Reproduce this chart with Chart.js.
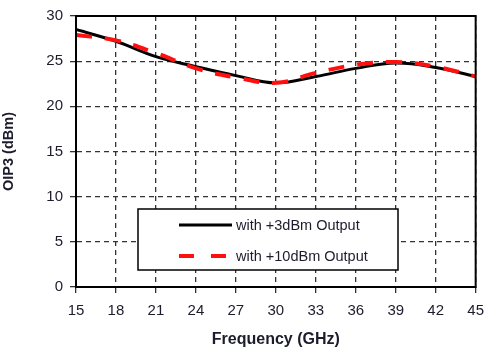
<!DOCTYPE html>
<html>
<head>
<meta charset="utf-8">
<script src="https://cdn.jsdelivr.net/npm/chart.js@4"></script>
<style>
  html, body { margin: 0; padding: 0; background: #fff; }
  #wrap { width: 493px; height: 352px; }
</style>
</head>
<body>
<div id="wrap"><canvas id="chart" width="493" height="352"></canvas></div>
<script>
// data
const freqs = [15, 18, 21, 24, 27, 30, 33, 36, 39, 42, 45];
const oip3At3dBm = [28.5, 27.2, 25.5, 24.4, 23.4, 22.6, 23.3, 24.2, 24.8, 24.3, 23.3];
const oip3At10dBm = [27.9, 27.3, 25.9, 24.2, 23.2, 22.6, 23.7, 24.6, 24.9, 24.4, 23.3];
const xTicks = [15, 18, 21, 24, 27, 30, 33, 36, 39, 42, 45];
const yTicks = [0, 5, 10, 15, 20, 25, 30];

const FONT = 'Liberation Sans, Arial, sans-serif';

function pts(ys) {
  return freqs.map((f, i) => ({ x: f, y: ys[i] }));
}

// white legend box inside the plot + black frame round the plot area
const boxPlugin = {
  id: 'boxLegend',
  afterDatasetsDraw(chart) {
    const ctx = chart.ctx;
    const a = chart.chartArea;
    ctx.save();
    ctx.strokeStyle = '#000';
    ctx.lineWidth = 2;
    ctx.strokeRect(a.left, a.top, a.right - a.left, a.bottom - a.top);

    const bx = 138, by = 209, bw = 260, bh = 61;
    ctx.fillStyle = '#fff';
    ctx.fillRect(bx, by, bw, bh);
    ctx.lineWidth = 1.5;
    ctx.strokeRect(bx, by, bw, bh);

    ctx.font = '14.5px ' + FONT;
    ctx.textBaseline = 'middle';
    chart.data.datasets.forEach((ds, i) => {
      const y = by + 16 + i * 31;
      ctx.beginPath();
      ctx.strokeStyle = ds.borderColor;
      ctx.lineWidth = ds.borderWidth;
      ctx.setLineDash(ds.borderDash ? [15, 17] : []);
      ctx.moveTo(179, y);
      ctx.lineTo(232, y);
      ctx.stroke();
      ctx.setLineDash([]);
      ctx.fillStyle = '#1c1c2c';
      ctx.fillText(ds.label, 236, y + 1);
    });
    ctx.restore();
  }
};

new Chart(document.getElementById('chart'), {
  type: 'line',
  data: {
    datasets: [
      {
        label: 'with +3dBm Output',
        data: pts(oip3At3dBm),
        borderColor: '#000',
        borderWidth: 3,
        pointRadius: 0,
        tension: 0.4,
        order: 1,
      },
      {
        label: 'with +10dBm Output',
        data: pts(oip3At10dBm),
        borderColor: '#ff1010',
        borderWidth: 4,
        borderDash: [16, 13],
        pointRadius: 0,
        tension: 0.4,
        order: 0,
      },
    ],
  },
  options: {
    responsive: false,
    animation: false,
    layout: { padding: { top: 10, right: 8, left: 0, bottom: 3 } },
    plugins: { legend: { display: false }, tooltip: { enabled: false } },
    scales: {
      x: {
        type: 'linear',
        min: 15,
        max: 45,
        afterBuildTicks: (s) => { s.ticks = xTicks.map((v) => ({ value: v })); },
        afterFit: (s) => { s.height = 62; },
        ticks: { color: '#1c1c2c', font: { family: FONT, size: 15 }, padding: 9, maxRotation: 0 },
        grid: { color: '#333', lineWidth: 1.3, tickLength: 6, tickColor: '#333' },
        border: { display: true, color: '#000', width: 2, dash: [5, 4] },
        title: {
          display: true,
          text: 'Frequency (GHz)',
          color: '#1c1c2c',
          font: { family: FONT, size: 16, weight: 'bold' },
          padding: { top: 0, bottom: 0 },
        },
      },
      y: {
        min: 0,
        max: 30,
        afterBuildTicks: (s) => { s.ticks = yTicks.map((v) => ({ value: v })); },
        afterFit: (s) => { s.width = 76; },
        ticks: { color: '#1c1c2c', font: { family: FONT, size: 15 }, padding: 7 },
        grid: { color: '#333', lineWidth: 1.3, tickLength: 6, tickColor: '#333' },
        border: { display: true, color: '#000', width: 2, dash: [5, 4] },
        title: {
          display: true,
          text: 'OIP3 (dBm)',
          color: '#1c1c2c',
          font: { family: FONT, size: 14.5, weight: 'bold' },
          padding: { top: 0, bottom: 4 },
        },
      },
    },
  },
  plugins: [boxPlugin],
});
</script>
</body>
</html>
